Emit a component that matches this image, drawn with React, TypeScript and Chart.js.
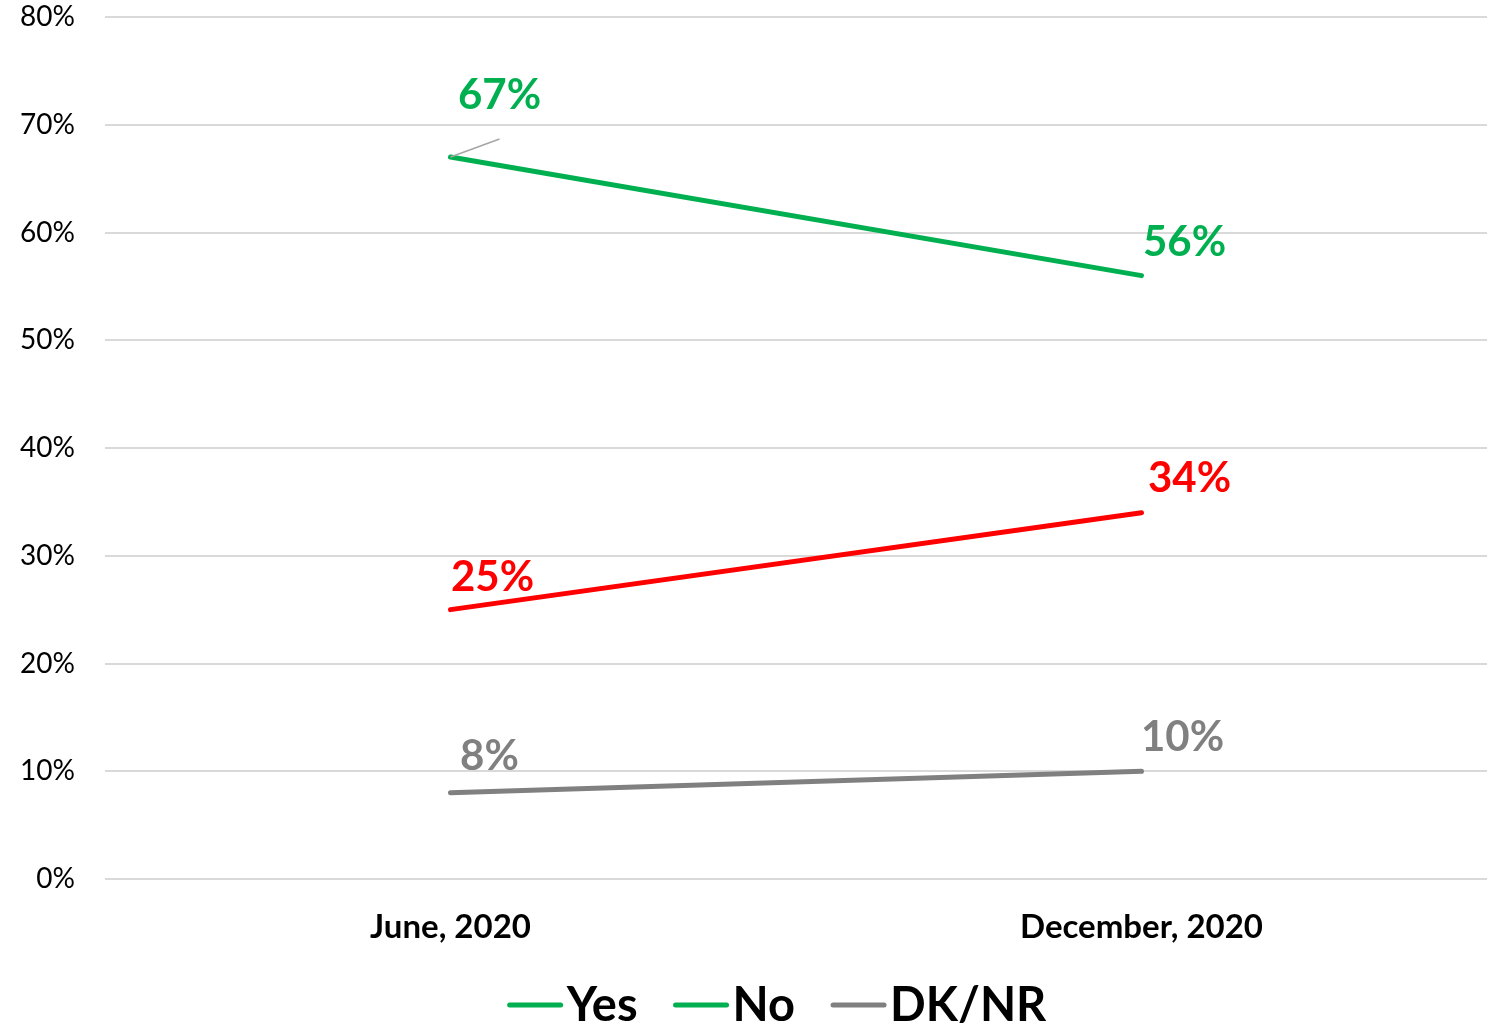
import React, { useEffect, useRef } from "react";
import { Chart, registerables } from "chart.js";

Chart.register(...registerables);

const categories = ["June, 2020", "December, 2020"];
const seriesNames = ["Yes", "No", "DK/NR"];
const yesValues = [67, 56];
const noValues = [25, 34];
const dkValues = [8, 10];
const yTicks = [0, 10, 20, 30, 40, 50, 60, 70, 80];

const lineColors = ["#00B050", "#FF0000", "#808080"];
const legendColors = ["#00B050", "#00B050", "#808080"];
// label offsets relative to each point [dx, dy]
const labelOffsets = [
  [[49, -62], [43, -33]],
  [[42, -32], [48, -34]],
  [[39, -36], [41, -34]],
];

const FONT = "Lato, 'Open Sans', sans-serif";

const labelPlugin = {
  id: "valueLabels",
  afterDatasetsDraw(chart: any) {
    const ctx = chart.ctx;
    ctx.save();
    chart.data.datasets.forEach((ds: any, di: number) => {
      const meta = chart.getDatasetMeta(di);
      meta.data.forEach((pt: any, i: number) => {
        const [dx, dy] = labelOffsets[di][i];
        if (di === 0 && i === 0) {
          ctx.beginPath();
          ctx.strokeStyle = "#A6A6A6";
          ctx.lineWidth = 1.5;
          ctx.moveTo(pt.x, pt.y);
          ctx.lineTo(pt.x + 49, pt.y - 18);
          ctx.stroke();
        }
        ctx.fillStyle = lineColors[di];
        ctx.font = `bold 42px ${FONT}`;
        ctx.textAlign = "center";
        ctx.textBaseline = "middle";
        ctx.fillText(ds.data[i] + "%", pt.x + dx, pt.y + dy);
      });
    });
    ctx.restore();
  },
};

const legendPlugin = {
  id: "customLegend",
  afterDraw(chart: any) {
    const ctx = chart.ctx;
    ctx.save();
    ctx.font = `bold 47px ${FONT}`;
    const lineW = 55;
    const gap = 4;
    const spacing = 36;
    const widths = seriesNames.map((n) => lineW + gap + ctx.measureText(n).width);
    const total = widths.reduce((a, b) => a + b, 0) + spacing * (seriesNames.length - 1);
    let x = 777 - total / 2;
    const y = 1005;
    seriesNames.forEach((n, i) => {
      ctx.beginPath();
      ctx.strokeStyle = legendColors[i];
      ctx.lineWidth = 5;
      ctx.lineCap = "round";
      ctx.moveTo(x + 2, y);
      ctx.lineTo(x + lineW - 2, y);
      ctx.stroke();
      ctx.fillStyle = "#000";
      ctx.textAlign = "left";
      ctx.textBaseline = "middle";
      ctx.fillText(n, x + lineW + gap, y + 1);
      x += widths[i] + spacing;
    });
    ctx.restore();
  },
};

export default function App() {
  const ref = useRef<HTMLCanvasElement>(null);
  useEffect(() => {
    if (!ref.current) return;
    const chart = new Chart(ref.current, {
      type: "line",
      data: {
        labels: categories,
        datasets: [yesValues, noValues, dkValues].map((d, i) => ({
          label: seriesNames[i],
          data: d,
          borderColor: lineColors[i],
          backgroundColor: lineColors[i],
          borderWidth: 5,
          pointRadius: 0,
          tension: 0,
          borderCapStyle: "round" as const,
        })),
      },
      options: {
        responsive: false,
        animation: false,
        layout: { padding: { top: 17, right: 12, left: 0, bottom: 0 } },
        plugins: { legend: { display: false }, tooltip: { enabled: false } },
        scales: {
          x: {
            offset: true,
            grid: { display: false, drawTicks: false },
            border: { display: false },
            ticks: {
              color: "#000",
              font: { family: FONT, size: 33, weight: "bold" },
              padding: 29,
              maxRotation: 0,
            },
            afterFit: (s: any) => {
              s.height = 148;
              s.paddingLeft = 0;
              s.paddingRight = 0;
            },
          },
          y: {
            min: 0,
            max: 80,
            afterBuildTicks: (s: any) => {
              s.ticks = yTicks.map((v) => ({ value: v }));
            },
            grid: { color: "#D9D9D9", lineWidth: 2, drawTicks: false },
            border: { display: false },
            ticks: {
              color: "#000",
              font: { family: FONT, size: 28, lineHeight: 1 },
              padding: 30,
              callback: (v: any) => v + "%",
            },
            afterFit: (s: any) => {
              s.width = 105;
              s.paddingTop = 0;
              s.paddingBottom = 0;
            },
          },
        },
      },
      plugins: [labelPlugin, legendPlugin],
    });
    return () => chart.destroy();
  }, []);
  return (
    <div style={{ position: "absolute", left: 0, top: 0, width: 1499, height: 1027, background: "#fff" }}>
      <canvas ref={ref} width={1499} height={1027} style={{ display: "block" }} />
    </div>
  );
}
